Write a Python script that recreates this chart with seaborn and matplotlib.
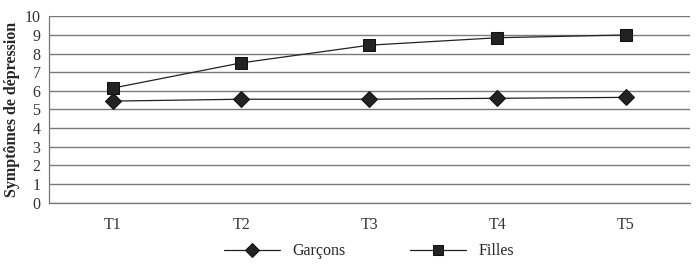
import numpy as np
import matplotlib.pyplot as plt
import pandas as pd
import seaborn as sns
from matplotlib.ticker import FixedLocator

# Data
temps = ['T1', 'T2', 'T3', 'T4', 'T5']
garcons = [5.45, 5.55, 5.55, 5.6, 5.65]
filles = [6.15, 7.5, 8.45, 8.85, 9.0]

data = pd.DataFrame({
    'temps': temps * 2,
    'score': garcons + filles,
    'groupe': ['Garçons'] * len(temps) + ['Filles'] * len(temps),
})

sns.set_style('white')
plt.rcParams['font.family'] = ['Liberation Serif', 'DejaVu Serif']

fig, ax = plt.subplots(figsize=(6.98, 2.72), dpi=100)
fig.subplots_adjust(left=0.07, right=0.988, top=0.94, bottom=0.255)

sns.lineplot(data=data, x='temps', y='score', hue='groupe', style='groupe',
             markers={'Garçons': 'D', 'Filles': 's'}, dashes=False,
             palette={'Garçons': '#222222', 'Filles': '#222222'},
             markersize=8, linewidth=0.9, markeredgecolor='#111111',
             ax=ax)

ax.set_ylim(0, 10)
ax.set_xlim(-0.5, 4.5)
ax.set_yticks(range(0, 11))
ax.yaxis.grid(True, color='#7a7a7a', linewidth=1.0)
ax.set_axisbelow(True)

ax.xaxis.set_minor_locator(FixedLocator([0.5, 1.5, 2.5, 3.5]))
ax.tick_params(axis='x', which='major', length=0, pad=10, labelsize=11.5, colors='#333333')
ax.tick_params(axis='x', which='minor', length=4, color='#777777', direction='out')
ax.tick_params(axis='y', length=4, color='#7a7a7a', pad=2, labelsize=11.5, colors='#333333')

for s in ['top', 'right']:
    ax.spines[s].set_visible(False)
for s in ['left', 'bottom']:
    ax.spines[s].set_color('#777777')
    ax.spines[s].set_linewidth(0.9)

ax.set_xlabel('')
ax.set_ylabel('Symptômes de dépression', fontsize=11.5, fontweight='bold', labelpad=3)

ax.legend(loc='upper center', bbox_to_anchor=(0.5, -0.14), ncol=2, frameon=False,
          fontsize=11.5, handlelength=3.5, columnspacing=4, markerscale=0.9)

plt.savefig('out.png')
